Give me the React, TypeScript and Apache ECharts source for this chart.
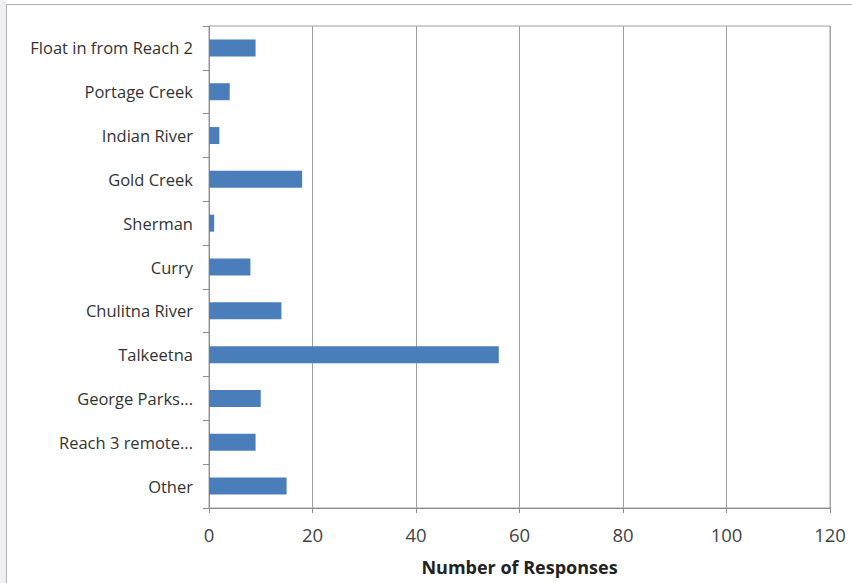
import React, { useEffect, useRef } from "react";
import * as echarts from "echarts";

const categories = [
  "Float in from Reach 2",
  "Portage Creek",
  "Indian River",
  "Gold Creek",
  "Sherman",
  "Curry",
  "Chulitna River",
  "Talkeetna",
  "George Parks...",
  "Reach 3 remote...",
  "Other",
];
const responses = [9, 4, 2, 18, 1, 8, 14, 56, 10, 9, 15];
const xMin = 0;
const xMax = 120;
const xStep = 20;
const xAxisTitle = "Number of Responses";

export default function App() {
  const ref = useRef<HTMLDivElement>(null);
  useEffect(() => {
    document.body.style.margin = "0";
    const chart = echarts.init(ref.current!, null, { renderer: "svg" });
    const font = "'Open Sans', Lato, sans-serif";
    chart.setOption({
      animation: false,
      backgroundColor: "#ffffff",
      graphic: [
        {
          type: "rect",
          shape: { x: 0, y: 0, width: 6, height: 583 },
          style: { fill: "#eef0f4" },
          silent: true,
        },
        {
          type: "rect",
          shape: { x: 6.5, y: 4.5, width: 900, height: 700 },
          style: { fill: "none", stroke: "#b4b4b4", lineWidth: 1 },
          silent: true,
        },
      ],
      grid: {
        left: 209,
        top: 26,
        width: 621,
        height: 482,
        show: true,
        borderColor: "#a0a0a0",
        borderWidth: 1,
        backgroundColor: "transparent",
      },
      xAxis: {
        type: "value",
        min: xMin,
        max: xMax,
        interval: xStep,
        name: xAxisTitle,
        nameLocation: "middle",
        nameGap: 50,
        nameTextStyle: { fontFamily: font, fontSize: 18, fontWeight: "bold", color: "#222" },
        axisLine: { show: true, lineStyle: { color: "#8c8c8c" } },
        axisTick: { show: true, length: 5, lineStyle: { color: "#8c8c8c" } },
        axisLabel: { fontFamily: font, fontSize: 18.5, color: "#444", margin: 17 },
        splitLine: { show: true, lineStyle: { color: "#a0a0a0", width: 1 } },
      },
      yAxis: {
        type: "category",
        data: categories,
        inverse: true,
        axisLine: { show: true, lineStyle: { color: "#8c8c8c" } },
        axisTick: { show: true, length: 6, interval: 0, alignWithLabel: false, lineStyle: { color: "#8c8c8c" } },
        axisLabel: { fontFamily: font, fontSize: 16.5, color: "#333", margin: 16, interval: 0 },
        splitLine: { show: false },
      },
      series: [
        {
          type: "bar",
          data: responses,
          barWidth: 17,
          itemStyle: { color: "#4a7ebb" },
        },
      ],
    });
    return () => chart.dispose();
  }, []);
  return <div ref={ref} style={{ width: 852, height: 583 }} />;
}
